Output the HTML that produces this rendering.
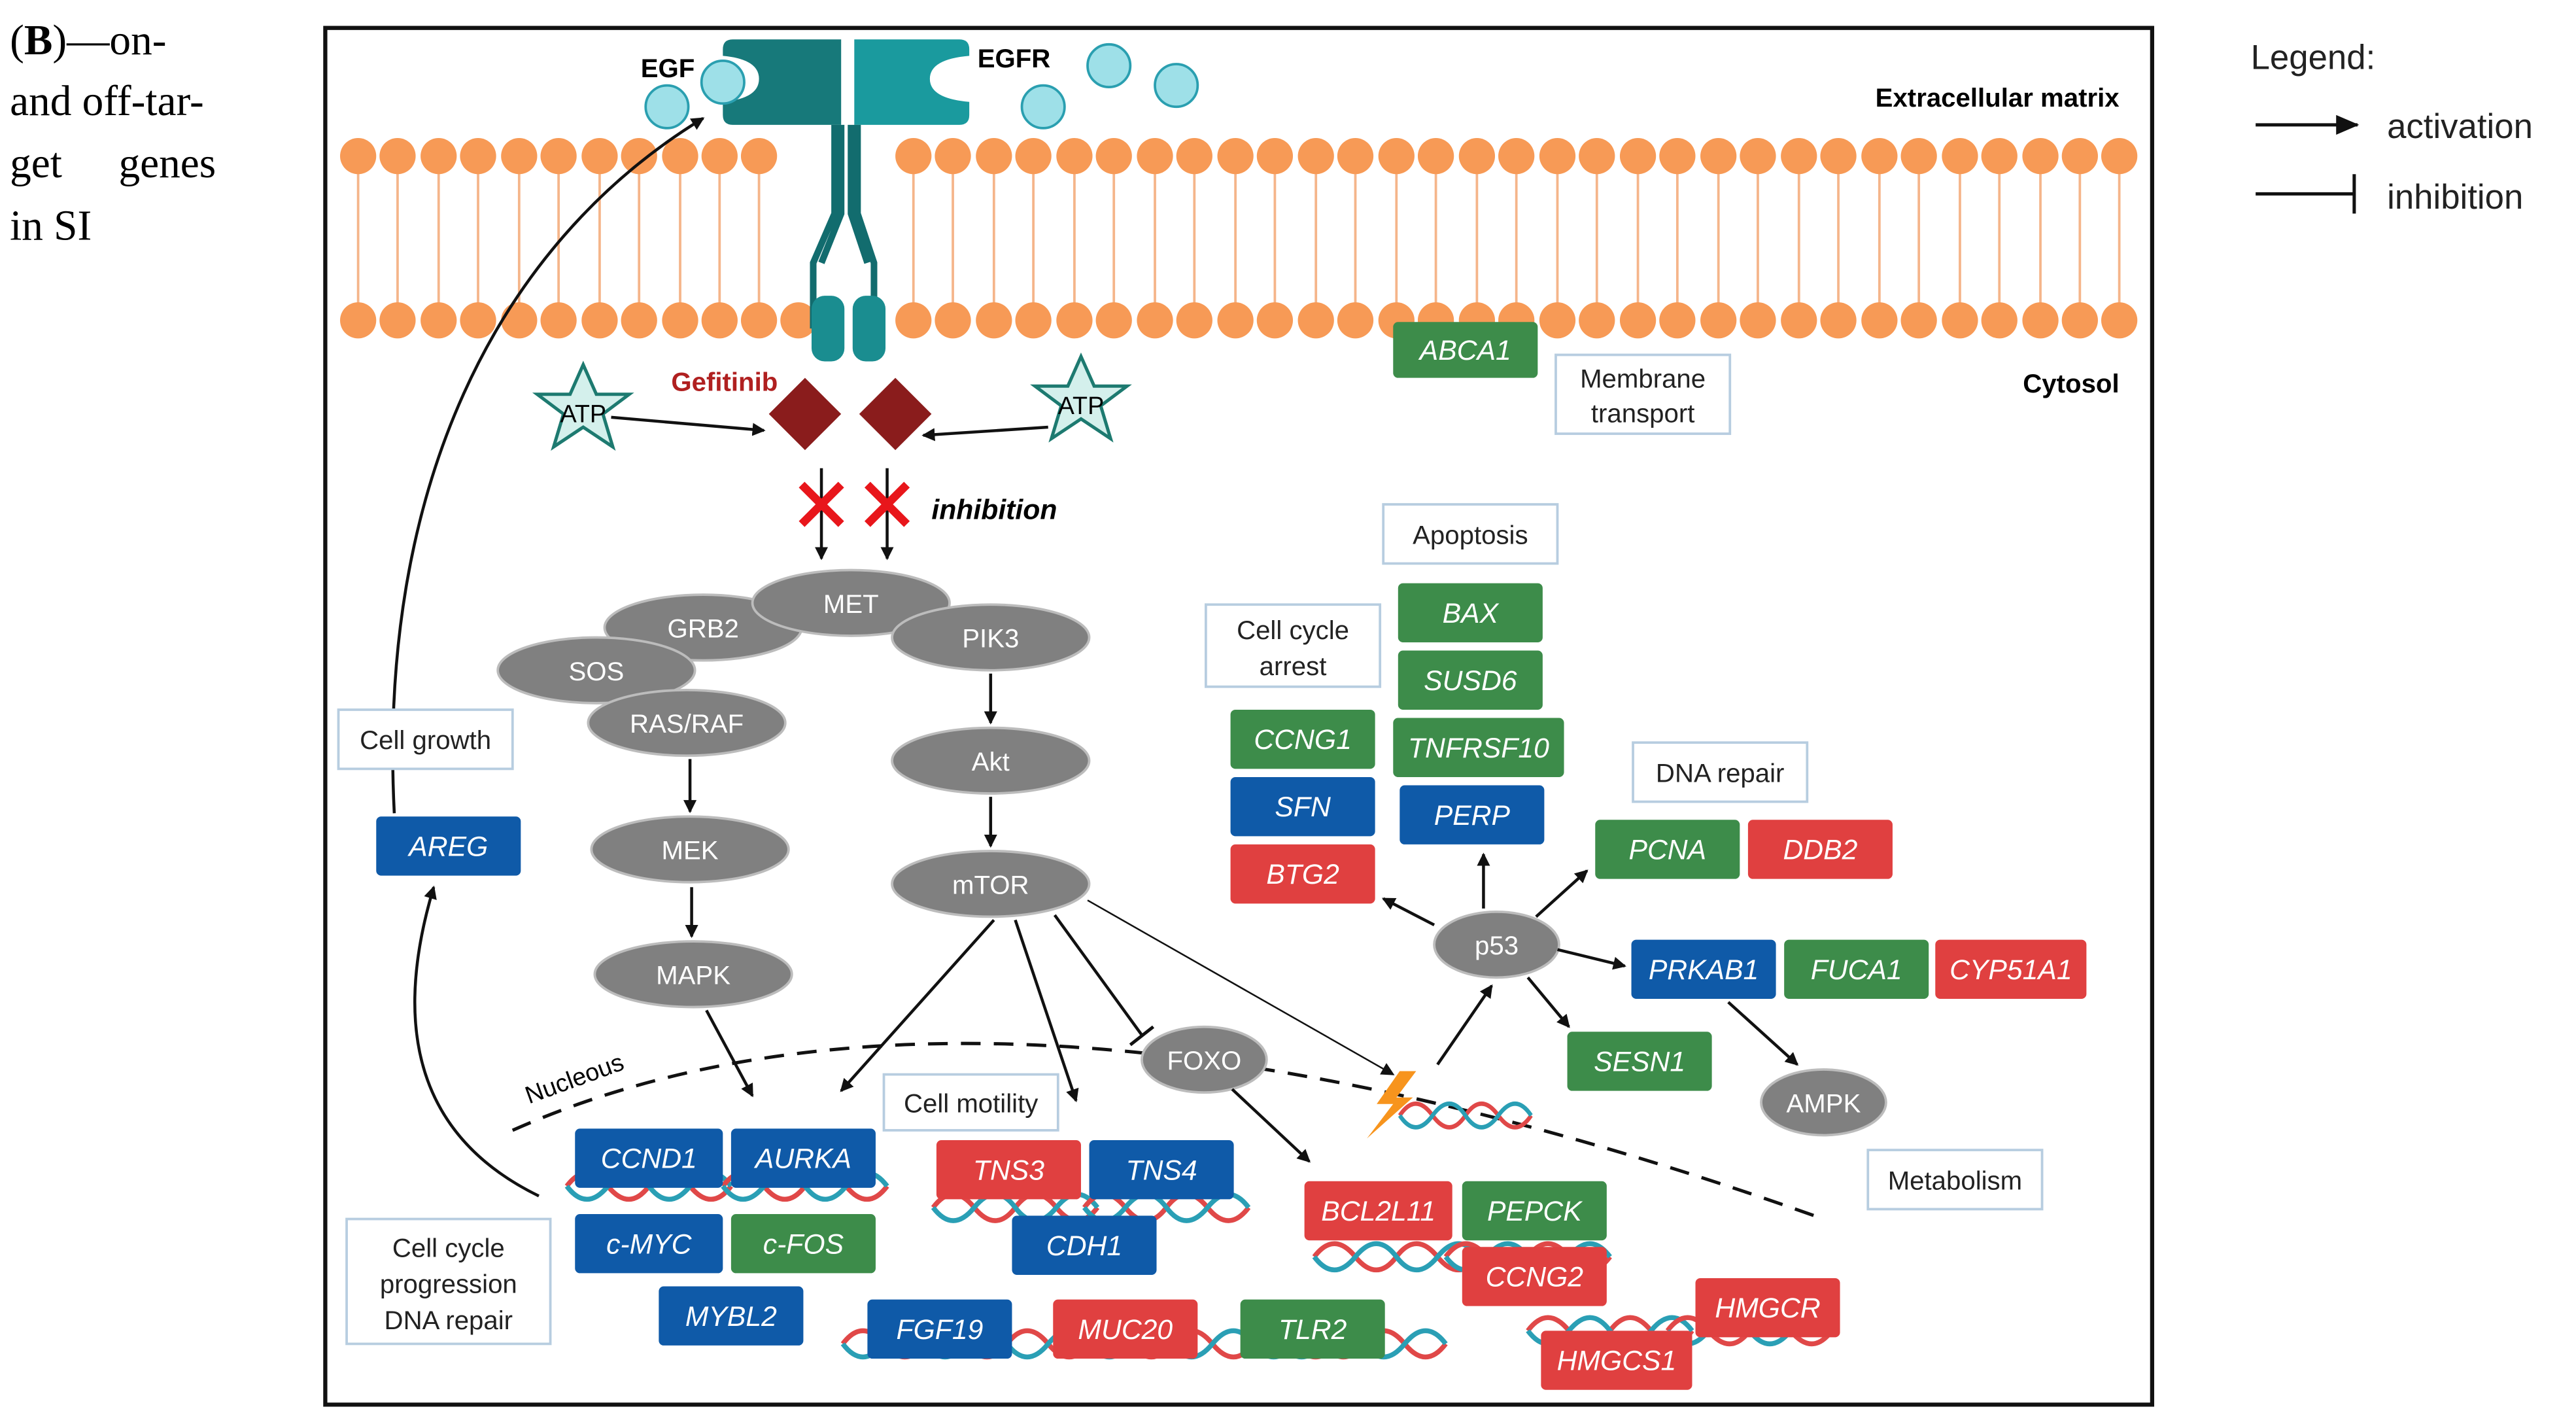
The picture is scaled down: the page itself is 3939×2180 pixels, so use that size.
<!DOCTYPE html>
<html><head><meta charset="utf-8"><style>
html,body{margin:0;padding:0;background:#fff;}
svg{display:block;}
text{font-family:"Liberation Sans","DejaVu Sans",sans-serif;}
.g text{fill:#fff;font-style:italic;font-size:17px;text-anchor:middle;}
.lb{fill:#fff;stroke:#b7cde0;stroke-width:1.5;}
.lt{font-size:16px;fill:#222;text-anchor:middle;}
.el{fill:#808080;stroke:#bcbcbc;stroke-width:1.5;}
.et{fill:#fff;font-size:16px;text-anchor:middle;}
.ar{stroke:#111;stroke-width:1.8;fill:none;marker-end:url(#ah);}
</style></head><body>
<svg width="3939" height="2180" viewBox="0 0 1568 868" preserveAspectRatio="none" xmlns="http://www.w3.org/2000/svg">
<defs>
<marker id="ah" markerWidth="8" markerHeight="8" refX="7" refY="4" orient="auto" markerUnits="userSpaceOnUse"><path d="M0,0L8,4L0,8Z" fill="#111"/></marker>
<marker id="ah2" markerWidth="14" markerHeight="12" refX="13" refY="6" orient="auto" markerUnits="userSpaceOnUse"><path d="M0,0L14,6L0,12Z" fill="#111"/></marker>
<g id="dna"><path d="M0,10 Q12,-6 25,10 T50,10 T75,10 T100,10" stroke="#e04848" stroke-width="3" fill="none"/><path d="M0,10 Q12,26 25,10 T50,10 T75,10 T100,10" stroke="#2a9fb5" stroke-width="3" fill="none"/></g>
</defs>
<text x="6" y="33" style="font-family:'Liberation Serif',serif" font-size="26">(<tspan font-weight="bold">B</tspan>)—on-</text>
<text x="6" y="70" style="font-family:'Liberation Serif',serif" font-size="26">and off-tar-</text>
<text x="6" y="108" style="font-family:'Liberation Serif',serif" font-size="26" word-spacing="28">get genes</text>
<text x="6" y="146" style="font-family:'Liberation Serif',serif" font-size="26">in SI</text>

<rect x="198" y="17" width="1112" height="838" fill="none" stroke="#111" stroke-width="2.5"/>

<g stroke="#f5b58a" stroke-width="1.5" fill="none">
<path d="M218,95 V190 M242,95 V190 M267,95 V190 M291,95 V190 M316,95 V190 M340,95 V190 M365,95 V190 M389,95 V190 M414,95 V190 M438,95 V190 M462,95 V190 M556,95 V190 M580,95 V190 M605,95 V190 M629,95 V190 M654,95 V190 M678,95 V190 M703,95 V190 M727,95 V190 M752,95 V190 M776,95 V190 M801,95 V190 M825,95 V190 M850,95 V190 M874,95 V190 M899,95 V190 M923,95 V190 M948,95 V190 M972,95 V190 M997,95 V190 M1021,95 V190 M1046,95 V190 M1070,95 V190 M1095,95 V190 M1119,95 V190 M1144,95 V190 M1168,95 V190 M1193,95 V190 M1217,95 V190 M1242,95 V190 M1266,95 V190 M1290,95 V190"/>
</g>
<g fill="#f79a56">
<circle cx="218" cy="95" r="11"/><circle cx="242" cy="95" r="11"/><circle cx="267" cy="95" r="11"/><circle cx="291" cy="95" r="11"/><circle cx="316" cy="95" r="11"/><circle cx="340" cy="95" r="11"/><circle cx="365" cy="95" r="11"/><circle cx="389" cy="95" r="11"/><circle cx="414" cy="95" r="11"/><circle cx="438" cy="95" r="11"/><circle cx="462" cy="95" r="11"/>
<circle cx="556" cy="95" r="11"/><circle cx="580" cy="95" r="11"/><circle cx="605" cy="95" r="11"/><circle cx="629" cy="95" r="11"/><circle cx="654" cy="95" r="11"/><circle cx="678" cy="95" r="11"/><circle cx="703" cy="95" r="11"/><circle cx="727" cy="95" r="11"/><circle cx="752" cy="95" r="11"/><circle cx="776" cy="95" r="11"/><circle cx="801" cy="95" r="11"/><circle cx="825" cy="95" r="11"/><circle cx="850" cy="95" r="11"/><circle cx="874" cy="95" r="11"/><circle cx="899" cy="95" r="11"/><circle cx="923" cy="95" r="11"/><circle cx="948" cy="95" r="11"/><circle cx="972" cy="95" r="11"/><circle cx="997" cy="95" r="11"/><circle cx="1021" cy="95" r="11"/><circle cx="1046" cy="95" r="11"/><circle cx="1070" cy="95" r="11"/><circle cx="1095" cy="95" r="11"/><circle cx="1119" cy="95" r="11"/><circle cx="1144" cy="95" r="11"/><circle cx="1168" cy="95" r="11"/><circle cx="1193" cy="95" r="11"/><circle cx="1217" cy="95" r="11"/><circle cx="1242" cy="95" r="11"/><circle cx="1266" cy="95" r="11"/><circle cx="1290" cy="95" r="11"/>
<circle cx="218" cy="195" r="11"/><circle cx="242" cy="195" r="11"/><circle cx="267" cy="195" r="11"/><circle cx="291" cy="195" r="11"/><circle cx="316" cy="195" r="11"/><circle cx="340" cy="195" r="11"/><circle cx="365" cy="195" r="11"/><circle cx="389" cy="195" r="11"/><circle cx="414" cy="195" r="11"/><circle cx="438" cy="195" r="11"/><circle cx="462" cy="195" r="11"/><circle cx="486" cy="195" r="11"/>
<circle cx="556" cy="195" r="11"/><circle cx="580" cy="195" r="11"/><circle cx="605" cy="195" r="11"/><circle cx="629" cy="195" r="11"/><circle cx="654" cy="195" r="11"/><circle cx="678" cy="195" r="11"/><circle cx="703" cy="195" r="11"/><circle cx="727" cy="195" r="11"/><circle cx="752" cy="195" r="11"/><circle cx="776" cy="195" r="11"/><circle cx="801" cy="195" r="11"/><circle cx="825" cy="195" r="11"/><circle cx="850" cy="195" r="11"/><circle cx="874" cy="195" r="11"/><circle cx="899" cy="195" r="11"/><circle cx="923" cy="195" r="11"/><circle cx="948" cy="195" r="11"/><circle cx="972" cy="195" r="11"/><circle cx="997" cy="195" r="11"/><circle cx="1021" cy="195" r="11"/><circle cx="1046" cy="195" r="11"/><circle cx="1070" cy="195" r="11"/><circle cx="1095" cy="195" r="11"/><circle cx="1119" cy="195" r="11"/><circle cx="1144" cy="195" r="11"/><circle cx="1168" cy="195" r="11"/><circle cx="1193" cy="195" r="11"/><circle cx="1217" cy="195" r="11"/><circle cx="1242" cy="195" r="11"/><circle cx="1266" cy="195" r="11"/><circle cx="1290" cy="195" r="11"/>
</g>

<path d="M446,24 H512 V76 H446 Q440,76 440,70 V62 Q462,60 462,48 Q462,36 440,34 V30 Q440,24 446,24Z" fill="#17797a"/>
<path d="M520,24 H584 Q590,24 590,30 V34 Q566,36 566,48 Q566,60 590,62 V70 Q590,76 584,76 H520Z" fill="#1a9a9e"/>
<path d="M508,76 V130 L495,160 V200 M522,76 V130 L532,160 V200 M512,76 V130 L500,160 M518,76 V130 L528,160" stroke="#126c6e" stroke-width="4" fill="none"/>
<rect x="494" y="180" width="20" height="40" rx="8" fill="#1a8d90"/>
<rect x="519" y="180" width="20" height="40" rx="8" fill="#1a8d90"/>
<g fill="#9ee0e8" stroke="#2a9fb0" stroke-width="1.5">
<circle cx="406" cy="65" r="13"/><circle cx="440" cy="50" r="13"/><circle cx="635" cy="65" r="13"/><circle cx="675" cy="40" r="13"/><circle cx="716" cy="52" r="13"/>
</g>
<text x="390" y="47" font-size="16" font-weight="bold">EGF</text>
<text x="595" y="41" font-size="16" font-weight="bold">EGFR</text>
<text x="1290" y="65" font-size="16" font-weight="bold" text-anchor="end">Extracellular matrix</text>
<text x="1290" y="239" font-size="16" font-weight="bold" text-anchor="end">Cytosol</text>

<polygon points="355,222 363,240 383,240 367,252 373,272 355,260 337,272 343,252 327,240 347,240" fill="#d4f0ec" stroke="#1d7a70" stroke-width="2"/>
<text x="355" y="257" font-size="15" text-anchor="middle">ATP</text>
<polygon points="658,217 666,235 686,235 670,247 676,267 658,255 640,267 646,247 630,235 650,235" fill="#d4f0ec" stroke="#1d7a70" stroke-width="2"/>
<text x="658" y="252" font-size="15" text-anchor="middle">ATP</text>
<text x="441" y="238" font-size="16" font-weight="bold" fill="#b02020" text-anchor="middle">Gefitinib</text>
<polygon points="490,230 512,252 490,274 468,252" fill="#8a1c1c"/>
<polygon points="545,230 567,252 545,274 523,252" fill="#8a1c1c"/>
<line x1="372" y1="254" x2="465" y2="262" class="ar"/>
<line x1="638" y1="260" x2="562" y2="265" class="ar"/>
<line x1="500" y1="285" x2="500" y2="340" class="ar"/>
<line x1="540" y1="285" x2="540" y2="340" class="ar"/>
<g stroke="#e8161b" stroke-width="5"><path d="M488,295 L512,319 M512,295 L488,319 M528,295 L552,319 M552,295 L528,319"/></g>
<text x="567" y="316" font-size="17" font-weight="bold" font-style="italic">inhibition</text>

<!-- nucleus -->
<path d="M312,688 Q600,560 1110,742" stroke="#111" stroke-width="2" stroke-dasharray="12,8" fill="none"/>
<text x="322" y="672" font-size="15" transform="rotate(-20 322 672)">Nucleous</text>

<g>
<ellipse cx="428" cy="382" rx="60" ry="20" class="el"/><text x="428" y="388" class="et">GRB2</text>
<ellipse cx="363" cy="408" rx="60" ry="20" class="el"/><text x="363" y="414" class="et">SOS</text>
<ellipse cx="518" cy="367" rx="60" ry="20" class="el"/><text x="518" y="373" class="et">MET</text>
<ellipse cx="603" cy="388" rx="60" ry="20" class="el"/><text x="603" y="394" class="et">PIK3</text>
<ellipse cx="418" cy="440" rx="60" ry="20" class="el"/><text x="418" y="446" class="et">RAS/RAF</text>
<ellipse cx="603" cy="463" rx="60" ry="20" class="el"/><text x="603" y="469" class="et">Akt</text>
<ellipse cx="420" cy="517" rx="60" ry="20" class="el"/><text x="420" y="523" class="et">MEK</text>
<ellipse cx="603" cy="538" rx="60" ry="20" class="el"/><text x="603" y="544" class="et">mTOR</text>
<ellipse cx="422" cy="593" rx="60" ry="20" class="el"/><text x="422" y="599" class="et">MAPK</text>
<ellipse cx="733" cy="645" rx="38" ry="20" class="el"/><text x="733" y="651" class="et">FOXO</text>
<ellipse cx="911" cy="575" rx="38" ry="20" class="el"/><text x="911" y="581" class="et">p53</text>
<ellipse cx="1110" cy="671" rx="38" ry="20" class="el"/><text x="1110" y="677" class="et">AMPK</text>
</g>
<line x1="420" y1="462" x2="420" y2="494" class="ar"/>
<line x1="421" y1="540" x2="421" y2="570" class="ar"/>
<line x1="603" y1="410" x2="603" y2="440" class="ar"/>
<line x1="603" y1="485" x2="603" y2="515" class="ar"/>

<line x1="430" y1="615" x2="458" y2="667" class="ar"/>
<line x1="605" y1="560" x2="512" y2="664" class="ar"/>
<line x1="618" y1="560" x2="655" y2="670" class="ar"/>
<line x1="642" y1="557" x2="695" y2="630" stroke="#111" stroke-width="1.8"/>
<line x1="688" y1="636" x2="702" y2="625" stroke="#111" stroke-width="2"/>
<line x1="662" y1="548" x2="848" y2="654" stroke="#111" stroke-width="1" marker-end="url(#ah)"/>
<line x1="750" y1="663" x2="797" y2="707" class="ar"/>
<line x1="875" y1="648" x2="908" y2="600" class="ar"/>
<line x1="903" y1="553" x2="903" y2="520" class="ar"/>
<line x1="873" y1="563" x2="842" y2="547" class="ar"/>
<line x1="935" y1="558" x2="966" y2="530" class="ar"/>
<line x1="948" y1="578" x2="989" y2="588" class="ar"/>
<line x1="930" y1="595" x2="955" y2="625" class="ar"/>
<line x1="1052" y1="610" x2="1094" y2="648" class="ar"/>
<use href="#dna" x="852" y="670" transform="translate(852 670) scale(0.8 0.9) translate(-852 -670)"/>
<polygon points="852,652 838,672 848,672 832,693 860,668 850,668 862,652" fill="#f7941d"/>

<path d="M328,728 C250,690 240,620 264,540" class="ar"/>
<path d="M240,495 C230,300 300,150 428,72" class="ar"/>

<use href="#dna" x="345" y="712"/><use href="#dna" x="440" y="712"/>
<use href="#dna" x="568" y="725"/><use href="#dna" x="660" y="725"/>
<use href="#dna" x="513" y="808"/><use href="#dna" x="613" y="808"/><use href="#dna" x="713" y="808"/><use href="#dna" x="780" y="808"/>
<use href="#dna" x="800" y="755"/><use href="#dna" x="880" y="755"/>
<use href="#dna" x="930" y="800"/><use href="#dna" x="1015" y="800"/>

<rect x="947" y="216" width="106" height="48" class="lb"/><text x="1000" y="236" class="lt">Membrane</text><text x="1000" y="257" class="lt">transport</text>
<rect x="842" y="307" width="106" height="36" class="lb"/><text x="895" y="331" class="lt">Apoptosis</text>
<rect x="734" y="368" width="106" height="50" class="lb"/><text x="787" y="389" class="lt">Cell cycle</text><text x="787" y="411" class="lt">arrest</text>
<rect x="994" y="452" width="106" height="36" class="lb"/><text x="1047" y="476" class="lt">DNA repair</text>
<rect x="206" y="432" width="106" height="36" class="lb"/><text x="259" y="456" class="lt">Cell growth</text>
<rect x="538" y="654" width="106" height="34" class="lb"/><text x="591" y="677" class="lt">Cell motility</text>
<rect x="1137" y="700" width="106" height="36" class="lb"/><text x="1190" y="724" class="lt">Metabolism</text>
<rect x="211" y="742" width="124" height="76" class="lb"/><text x="273" y="765" class="lt">Cell cycle</text><text x="273" y="787" class="lt">progression</text><text x="273" y="809" class="lt">DNA repair</text>

<g class="g">
<rect x="848" y="196" width="88" height="34" rx="3" fill="#3d8c4a"/><text x="892" y="219">ABCA1</text>
<rect x="851" y="355" width="88" height="36" rx="3" fill="#3d8c4a"/><text x="895" y="379">BAX</text>
<rect x="851" y="396" width="88" height="36" rx="3" fill="#3d8c4a"/><text x="895" y="420">SUSD6</text>
<rect x="848" y="437" width="104" height="36" rx="3" fill="#3d8c4a"/><text x="900" y="461">TNFRSF10</text>
<rect x="852" y="478" width="88" height="36" rx="3" fill="#0f5aa8"/><text x="896" y="502">PERP</text>
<rect x="749" y="432" width="88" height="36" rx="3" fill="#3d8c4a"/><text x="793" y="456">CCNG1</text>
<rect x="749" y="473" width="88" height="36" rx="3" fill="#0f5aa8"/><text x="793" y="497">SFN</text>
<rect x="749" y="514" width="88" height="36" rx="3" fill="#e04040"/><text x="793" y="538">BTG2</text>
<rect x="971" y="499" width="88" height="36" rx="3" fill="#3d8c4a"/><text x="1015" y="523">PCNA</text>
<rect x="1064" y="499" width="88" height="36" rx="3" fill="#e04040"/><text x="1108" y="523">DDB2</text>
<rect x="993" y="572" width="88" height="36" rx="3" fill="#0f5aa8"/><text x="1037" y="596">PRKAB1</text>
<rect x="1086" y="572" width="88" height="36" rx="3" fill="#3d8c4a"/><text x="1130" y="596">FUCA1</text>
<rect x="1178" y="572" width="92" height="36" rx="3" fill="#e04040"/><text x="1224" y="596">CYP51A1</text>
<rect x="954" y="628" width="88" height="36" rx="3" fill="#3d8c4a"/><text x="998" y="652">SESN1</text>
<rect x="229" y="497" width="88" height="36" rx="3" fill="#0f5aa8"/><text x="273" y="521">AREG</text>
<rect x="350" y="687" width="90" height="36" rx="3" fill="#0f5aa8"/><text x="395" y="711">CCND1</text>
<rect x="445" y="687" width="88" height="36" rx="3" fill="#0f5aa8"/><text x="489" y="711">AURKA</text>
<rect x="350" y="739" width="90" height="36" rx="3" fill="#0f5aa8"/><text x="395" y="763">c-MYC</text>
<rect x="445" y="739" width="88" height="36" rx="3" fill="#3d8c4a"/><text x="489" y="763">c-FOS</text>
<rect x="401" y="783" width="88" height="36" rx="3" fill="#0f5aa8"/><text x="445" y="807">MYBL2</text>
<rect x="570" y="694" width="88" height="36" rx="3" fill="#e04040"/><text x="614" y="718">TNS3</text>
<rect x="663" y="694" width="88" height="36" rx="3" fill="#0f5aa8"/><text x="707" y="718">TNS4</text>
<rect x="616" y="740" width="88" height="36" rx="3" fill="#0f5aa8"/><text x="660" y="764">CDH1</text>
<rect x="528" y="791" width="88" height="36" rx="3" fill="#0f5aa8"/><text x="572" y="815">FGF19</text>
<rect x="641" y="791" width="88" height="36" rx="3" fill="#e04040"/><text x="685" y="815">MUC20</text>
<rect x="755" y="791" width="88" height="36" rx="3" fill="#3d8c4a"/><text x="799" y="815">TLR2</text>
<rect x="794" y="719" width="90" height="36" rx="3" fill="#e04040"/><text x="839" y="743">BCL2L11</text>
<rect x="890" y="719" width="88" height="36" rx="3" fill="#3d8c4a"/><text x="934" y="743">PEPCK</text>
<rect x="890" y="759" width="88" height="36" rx="3" fill="#e04040"/><text x="934" y="783">CCNG2</text>
<rect x="1032" y="778" width="88" height="36" rx="3" fill="#e04040"/><text x="1076" y="802">HMGCR</text>
<rect x="938" y="810" width="92" height="36" rx="3" fill="#e04040"/><text x="984" y="834">HMGCS1</text>
</g>

<text x="1370" y="42" font-size="21" fill="#222">Legend:</text>
<line x1="1373" y1="76" x2="1435" y2="76" stroke="#111" stroke-width="2" marker-end="url(#ah2)"/>
<text x="1453" y="84" font-size="21" fill="#222">activation</text>
<line x1="1373" y1="118" x2="1433" y2="118" stroke="#111" stroke-width="2"/>
<line x1="1433" y1="106" x2="1433" y2="130" stroke="#111" stroke-width="2"/>
<text x="1453" y="127" font-size="21" fill="#222">inhibition</text>
</svg>
</body></html>
